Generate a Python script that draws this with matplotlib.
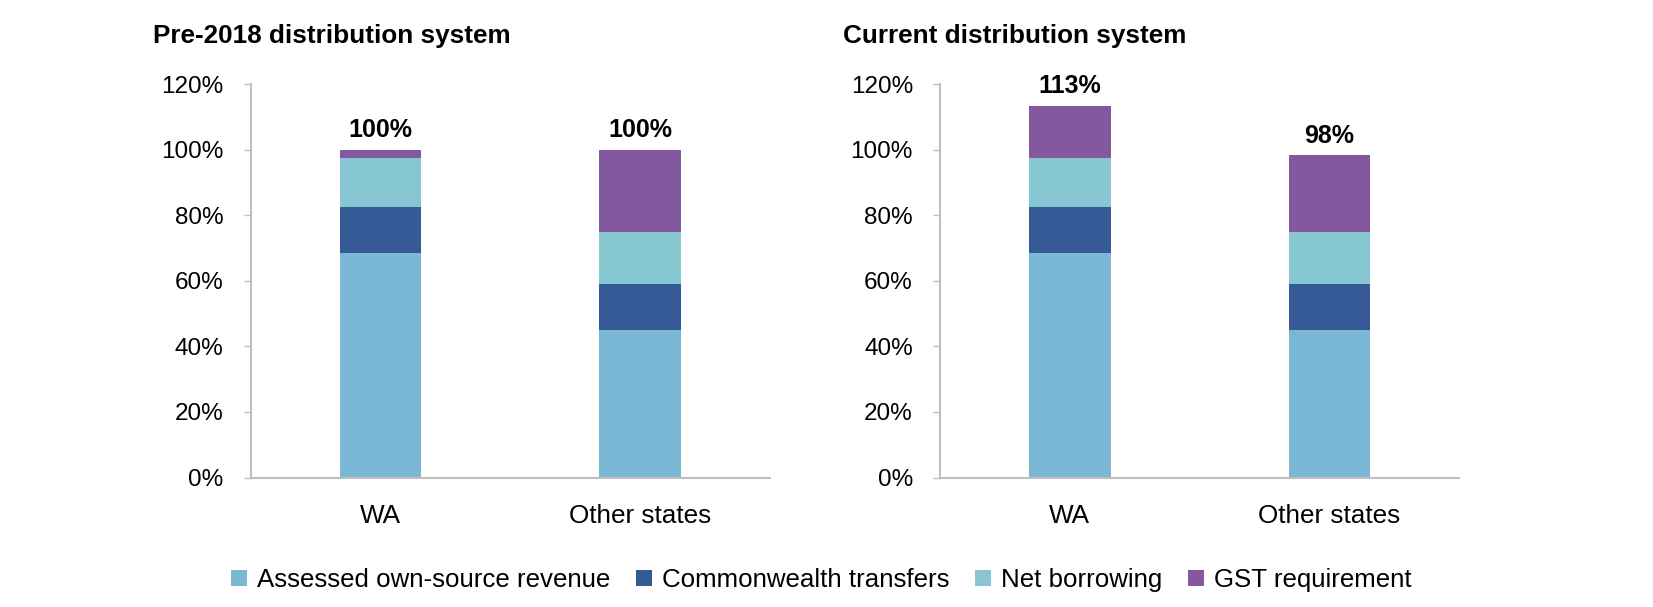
import matplotlib
matplotlib.use("Agg")
import matplotlib.pyplot as plt
import numpy as np

plt.rcParams['font.family'] = ['Liberation Sans', 'DejaVu Sans']

categories = ["WA", "Other states"]
series_names = ["Assessed own-source revenue", "Commonwealth transfers",
                "Net borrowing", "GST requirement"]
colors = ["#7AB8D6", "#355A96", "#87C7D2", "#83589F"]

# Pre-2018 distribution system (percent of needs)
pre_assessed = [68.4, 45.0]
pre_commonwealth = [14.1, 14.0]
pre_borrowing = [15.0, 15.8]
pre_gst = [2.5, 25.2]

# Current distribution system
cur_assessed = [68.4, 45.0]
cur_commonwealth = [14.1, 14.0]
cur_borrowing = [15.0, 15.8]
cur_gst = [15.8, 23.5]

titles = ["Pre-2018 distribution system", "Current distribution system"]

W, H = 1653, 607
fig = plt.figure(figsize=(W / 100, H / 100), dpi=100)

ax_bottom = 1 - 477.5 / H
ax_height = (477.5 - 84.3) / H
ax_width = 519.3 / W
ax_lefts = [250.7 / W, 940 / W]
title_x = [152.7 / W, 843 / W]

datasets = [
    [pre_assessed, pre_commonwealth, pre_borrowing, pre_gst],
    [cur_assessed, cur_commonwealth, cur_borrowing, cur_gst],
]

spine_color = "#BFBFBF"
handles = None
for i, data in enumerate(datasets):
    ax = fig.add_axes([ax_lefts[i], ax_bottom, ax_width, ax_height])
    x = np.arange(len(categories))
    bottom = np.zeros(len(categories))
    bars_list = []
    for vals, name, c in zip(data, series_names, colors):
        v = np.array(vals) / 100.0
        b = ax.bar(x, v, width=0.315, bottom=bottom, color=c, label=name,
                   linewidth=0)
        bars_list.append(b)
        bottom = bottom + v
    for xi, tot in zip(x, bottom):
        ax.text(xi, tot + 0.024, f"{tot * 100:.0f}%", ha="center",
                va="bottom", fontsize=18, fontweight="bold")
    ax.set_xlim(-0.5, 1.5)
    ax.set_ylim(0, 1.2)
    ax.set_yticks(np.arange(0, 1.21, 0.2))
    ax.set_yticklabels([f"{int(round(t * 100))}%" for t in np.arange(0, 1.21, 0.2)])
    ax.set_xticks(x)
    ax.set_xticklabels(categories)
    ax.tick_params(axis="y", length=5, width=1, color=spine_color,
                   labelsize=17.5, pad=14.5)
    ax.tick_params(axis="x", length=0, labelsize=18.8, pad=19)
    for s in ["top", "right"]:
        ax.spines[s].set_visible(False)
    for s in ["left", "bottom"]:
        ax.spines[s].set_color(spine_color)
        ax.spines[s].set_linewidth(1.5)
    fig.text(title_x[i], 1 - 36 / H, titles[i], fontsize=18.8,
             fontweight="bold", ha="left", va="center")
    handles = bars_list

fig.legend(handles, series_names, loc="center", bbox_to_anchor=(0.497, 1 - 580 / H),
           ncol=4, frameon=False, fontsize=18.6, handlelength=0.6,
           handleheight=0.6, handletextpad=0.4, columnspacing=1.0)

fig.savefig("out.png", dpi=100)
